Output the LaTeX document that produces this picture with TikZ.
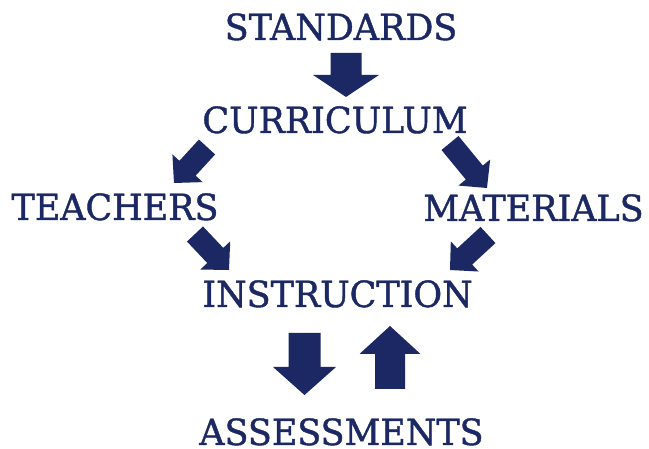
\documentclass[tikz,border=0pt]{standalone}
\usepackage{fontspec}
\setmainfont{DejaVu Serif}[FakeStretch=0.97,FakeBold=1.2]
\usetikzlibrary{calc}
\definecolor{navy}{RGB}{27,40,99}

\tikzset{
  label/.style={text=navy, anchor=base, inner sep=0pt,
    font=\fontsize{36}{40}\selectfont},
  arrowfill/.style={fill=navy}
}

% block arrow: #1 tail, #2 tip, #3 shaft half width, #4 head half width, #5 head length
\newcommand\blockarrow[5]{%
  \fill[arrowfill]
    ($(#1)!#3!90:(#2)$) --
    ($($(#2)!#5!(#1)$)!#3!-90:(#1)$) --
    ($($(#2)!#5!(#1)$)!#4!-90:(#1)$) --
    (#2) --
    ($($(#2)!#5!(#1)$)!#4!90:(#1)$) --
    ($($(#2)!#5!(#1)$)!#3!90:(#1)$) --
    ($(#1)!#3!-90:(#2)$) -- cycle;
}

\begin{document}
\begin{tikzpicture}[x=1pt,y=-1pt]
  \useasboundingbox (0,0) rectangle (649,449);

  % labels
  \node[label] (std)  at (341,40)    {STANDARDS};
  \node[label] (cur)  at (335,133)   {CURRICULUM};
  \node[label] (tea)  at (115,220)   {TEACHERS};
  \node[label] (mat)  at (533.5,221) {MATERIALS};
  \node[label] (ins)  at (337.5,307) {INSTRUCTION};
  \node[label] (ass)  at (341.5,445) {ASSESSMENTS};

  % arrow ends
  \coordinate (a1s) at (346,53);    \coordinate (a1e) at (346,97);
  \coordinate (a2s) at (207,147);   \coordinate (a2e) at (174,183);
  \coordinate (a3s) at (450,143);   \coordinate (a3e) at (487,188);
  \coordinate (a4s) at (195,234);   \coordinate (a4e) at (229,270);
  \coordinate (a5s) at (488,235);   \coordinate (a5e) at (450,270);
  \coordinate (a6s) at (304.5,333); \coordinate (a6e) at (304.5,395);
  \coordinate (a7s) at (390,389);   \coordinate (a7e) at (390,326);

  % standards -> curriculum
  \blockarrow{a1s}{a1e}{15.5pt}{33pt}{22pt}
  % curriculum -> teachers / materials
  \blockarrow{a2s}{a2e}{11pt}{20.5pt}{20pt}
  \blockarrow{a3s}{a3e}{11pt}{20.5pt}{20pt}
  % teachers / materials -> instruction
  \blockarrow{a4s}{a4e}{11pt}{20.5pt}{20pt}
  \blockarrow{a5s}{a5e}{11pt}{20.5pt}{20pt}
  % instruction <-> assessments
  \blockarrow{a6s}{a6e}{16pt}{31.5pt}{28pt}
  \blockarrow{a7s}{a7e}{15pt}{30.5pt}{28pt}
\end{tikzpicture}
\end{document}
